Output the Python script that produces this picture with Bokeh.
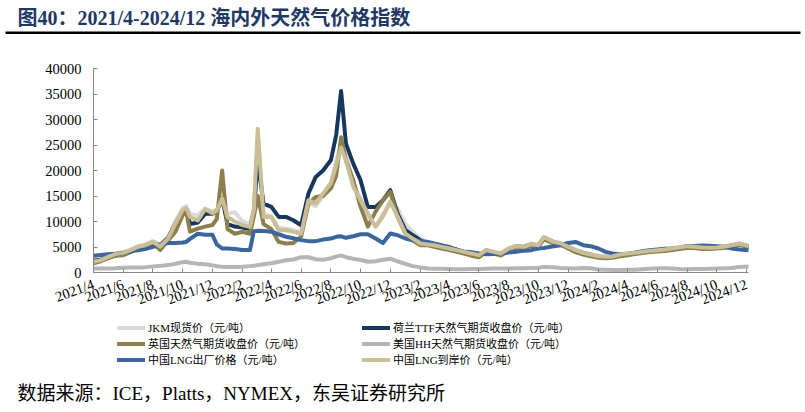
import pandas as pd
from datetime import datetime
from bokeh.plotting import figure
from bokeh.layouts import column
from bokeh.models import (Range1d, FixedTicker, Legend, LegendItem, Label,
                          BoxAnnotation, NumeralTickFormatter, Plot)
from bokeh.embed import file_html
from bokeh.resources import INLINE

# ---------------- data ----------------
dates = ["2021-04-01","2021-04-16","2021-05-01","2021-05-16","2021-06-01","2021-06-16","2021-07-01","2021-07-16","2021-08-01","2021-08-16",
         "2021-09-01","2021-09-16","2021-10-01","2021-10-08","2021-10-16","2021-11-01","2021-11-16","2021-12-01","2021-12-10","2021-12-21",
         "2022-01-01","2022-01-16","2022-02-01","2022-02-16","2022-02-24","2022-03-04","2022-03-16","2022-04-01","2022-04-16","2022-05-01",
         "2022-05-16","2022-06-01","2022-06-16","2022-07-01","2022-07-16","2022-08-01","2022-08-12","2022-08-22","2022-09-01","2022-09-16",
         "2022-10-01","2022-10-16","2022-11-01","2022-11-16","2022-12-01","2022-12-16","2023-01-01","2023-01-16","2023-02-01","2023-02-16",
         "2023-03-01","2023-03-16","2023-04-01","2023-04-16","2023-05-01","2023-05-16","2023-06-01","2023-06-16","2023-07-01","2023-07-16",
         "2023-08-01","2023-08-16","2023-09-01","2023-09-16","2023-10-01","2023-10-12","2023-11-01","2023-11-16","2023-12-01","2023-12-16",
         "2024-01-01","2024-01-16","2024-02-01","2024-02-16","2024-03-01","2024-03-16","2024-04-01","2024-04-16","2024-05-01","2024-05-16",
         "2024-06-01","2024-06-16","2024-07-01","2024-07-16","2024-08-01","2024-08-16","2024-09-01","2024-09-16","2024-10-01","2024-10-16",
         "2024-11-01","2024-11-16","2024-12-06"]

jkm = [2300, 2600, 3200, 3700, 4000, 4500, 5200, 5500, 6200, 5400,
       7000, 10000, 12600, 13000, 11500, 11200, 12600, 12000, 12300, 14000,
       11500, 11800, 10000, 9500, 12500, 27000, 11500, 11000, 8800, 8600,
       8300, 8000, 13500, 13000, 15000, 17500, 22000, 25000, 23000, 17500,
       14500, 11000, 9000, 11500, 14000, 12500, 9500, 8000, 6500, 6000,
       5500, 5200, 4800, 4500, 4100, 3800, 3500, 4400, 4100, 3800,
       4800, 5200, 5100, 5600, 5500, 7000, 6100, 5800, 5200, 4500,
       4000, 3600, 3300, 3200, 3200, 3600, 3800, 3900, 4100, 4300,
       4400, 4600, 4800, 5000, 5200, 5100, 5000, 4900, 5000, 5100,
       5400, 5700, 5200]

ttf = [2300, 2500, 2900, 3300, 3700, 4200, 4800, 5200, 5800, 5300,
       6800, 9500, 12000, 12500, 9500, 9800, 11500, 11500, 12000, 14500,
       9500, 9000, 8800, 8500, 12000, 22000, 13500, 12860, 10900, 10900,
       10250, 9270, 15480, 18740, 20000, 22000, 27000, 35600, 25270, 21350,
       18090, 12860, 12860, 14170, 16130, 11560, 8290, 7310, 6330, 5680,
       5350, 5030, 4700, 4500, 4050, 3600, 3300, 4300, 3900, 3600,
       4600, 5100, 5000, 5500, 5300, 6800, 5900, 5600, 4900, 4300,
       3800, 3500, 3100, 3000, 3100, 3400, 3600, 3800, 4000, 4200,
       4300, 4400, 4600, 4800, 5100, 5000, 4800, 4800, 4900, 5000,
       5300, 5600, 5100]

nbp = [1800, 2200, 2800, 3300, 3400, 4000, 4700, 5000, 5600, 4400,
       6300, 8000, 11230, 12000, 8000, 8600, 9000, 9300, 10500, 20000,
       8500, 7600, 8000, 7600, 11000, 15000, 9500, 8500, 6000, 5680,
       5800, 7000, 13520, 14820, 15000, 16500, 19000, 26500, 22000, 18090,
       12860, 9000, 12000, 14170, 15800, 10900, 7640, 6330, 5350, 5350,
       5030, 4700, 4380, 4050, 3720, 3300, 3000, 4000, 3700, 3300,
       4300, 4800, 4700, 5200, 5100, 6500, 5700, 5400, 4700, 4000,
       3500, 3200, 2900, 2800, 2900, 3200, 3400, 3600, 3800, 4000,
       4100, 4200, 4400, 4600, 4800, 4800, 4600, 4600, 4700, 4800,
       5100, 5400, 5000]

hh = [800, 800, 800, 850, 950, 1000, 1000, 1050, 1200, 1300,
      1450, 1700, 2000, 2100, 1900, 1700, 1600, 1400, 1250, 1150,
      1100, 1100, 1150, 1250, 1300, 1450, 1600, 1800, 2100, 2400,
      2550, 3000, 3000, 2600, 2500, 2800, 3100, 3350, 3000, 2700,
      2450, 2100, 2200, 2500, 2700, 2200, 1700, 1250, 1000, 800,
      750, 750, 700, 650, 650, 700, 700, 750, 800, 800,
      800, 850, 850, 900, 950, 1100, 1050, 900, 850, 800,
      900, 850, 600, 550, 500, 500, 550, 550, 650, 750,
      850, 850, 800, 700, 650, 700, 700, 750, 800, 850,
      900, 1100, 1200]

lng_factory = [3300, 3450, 3600, 3700, 3850, 4100, 4380, 4600, 5030, 5500,
               5800, 5800, 5900, 6000, 6600, 7600, 7400, 7400, 5500, 4700,
               4700, 4600, 4400, 4400, 8100, 8200, 8150, 8000, 7500, 7000,
               6700, 6350, 6150, 6150, 6450, 6650, 7000, 7100, 6800, 7100,
               7500, 7500, 6660, 5800, 7640, 7310, 6660, 6330, 6200, 6000,
               5680, 5350, 5030, 4500, 4050, 4000, 3720, 3600, 3650, 3720,
               3900, 4050, 4240, 4380, 4700, 4800, 5160, 5350, 5800, 6000,
               5350, 5160, 4700, 4050, 3720, 3600, 3700, 3900, 4180, 4380,
               4500, 4640, 4700, 4830, 5160, 5220, 5290, 5250, 5160, 5030,
               4700, 4500, 4380]

lng_landed = [2100, 2400, 3070, 3600, 3850, 4380, 5030, 5350, 6000, 5100,
              6660, 9600, 12300, 12700, 10900, 10200, 12400, 11600, 12200, 14500,
              10900, 10000, 9300, 8950, 12200, 28200, 10900, 10900, 8300, 8300,
              7970, 7640, 14170, 13520, 15480, 17500, 21000, 24500, 22000, 16780,
              14170, 11560, 9000, 11000, 13800, 11000, 7640, 6660, 5680, 5500,
              5350, 5030, 4700, 4380, 4050, 3720, 3400, 4380, 4050, 3720,
              4700, 5160, 5030, 5550, 5350, 6900, 6000, 5680, 5030, 4380,
              3850, 3530, 3200, 3070, 3150, 3530, 3720, 3850, 4050, 4240,
              4380, 4500, 4700, 4900, 5160, 5030, 4900, 4850, 4900, 5030,
              5350, 5680, 5160]

series_names = ["JKM现货价（元/吨）", "荷兰TTF天然气期货收盘价（元/吨）", "英国天然气期货收盘价（元/吨）",
                "美国HH天然气期货收盘价（元/吨）", "中国LNG出厂价格（元/吨）", "中国LNG到岸价（元/吨）"]
series_colors = ["#dadada", "#17375e", "#8b7f4e", "#b5b5b5", "#3b659d", "#c9be96"]

y_ticks = [0, 5000, 10000, 15000, 20000, 25000, 30000, 35000, 40000]
x_tick_labels = ["2021/4", "2021/6", "2021/8", "2021/10", "2021/12", "2022/2", "2022/4", "2022/6",
                 "2022/8", "2022/10", "2022/12", "2023/2", "2023/4", "2023/6", "2023/8", "2023/10",
                 "2023/12", "2024/2", "2024/4", "2024/6", "2024/8", "2024/10", "2024/12"]

title_text = "图40：2021/4-2024/12 海内外天然气价格指数"
source_text = "数据来源：ICE，Platts，NYMEX，东吴证券研究所"

FONT = "Liberation Serif, Noto Sans CJK SC"
W = 805
HAS_FRAME_ALIGN = "frame_align" in Plot.properties()


def no_align(f):
    if HAS_FRAME_ALIGN:
        f.frame_align = False
    return f


def blank_fig(h, left=0, right=0, bg="white"):
    f = figure(width=W, height=h, output_backend="svg", toolbar_location=None,
               x_range=Range1d(0, W - left - right), y_range=Range1d(h, 0),
               x_axis_location=None, y_axis_location=None,
               min_border=0, min_border_left=left, min_border_right=right,
               min_border_top=0, min_border_bottom=0)
    f.outline_line_color = None
    f.xgrid.visible = False
    f.ygrid.visible = False
    f.background_fill_color = bg
    f.border_fill_color = "white"
    return no_align(f)

# ---------------- title strip ----------------
top = blank_fig(45)
top.add_layout(Label(x=17, y=17, text=title_text, text_font=FONT, text_font_size="20px",
                     text_font_style="bold", text_color="#1f3864",
                     text_baseline="middle", text_align="left"))
top.add_layout(BoxAnnotation(left=5, right=800, top=31, bottom=33.5,
                             fill_color="black", fill_alpha=1, line_color=None))

# ---------------- main chart ----------------
x = pd.to_datetime(dates)
p = figure(width=W, height=272, x_axis_type="datetime", output_backend="svg",
           toolbar_location=None,
           x_range=Range1d(datetime(2021, 4, 1), datetime(2024, 12, 5)),
           y_range=Range1d(0, 40000),
           min_border_left=93, min_border_right=57, min_border_top=23, min_border_bottom=45)
no_align(p)
p.outline_line_color = None
p.background_fill_color = "white"
p.border_fill_color = "white"
p.xgrid.visible = False
p.ygrid.visible = False

for vals, col in zip([jkm, ttf, nbp, hh, lng_factory, lng_landed], series_colors):
    p.line(x, vals, line_width=4, color=col, line_join="round", line_cap="round")


def to_ms(lab):
    yy, mm = lab.split("/")
    return (datetime(int(yy), int(mm), 1) - datetime(1970, 1, 1)).total_seconds() * 1000.0


tick_ms = [to_ms(l) for l in x_tick_labels]
p.xaxis.ticker = FixedTicker(ticks=tick_ms)
p.xaxis.major_label_overrides = {t: l for t, l in zip(tick_ms, x_tick_labels)}
p.xaxis.major_label_orientation = 0.35
p.xaxis.major_label_standoff = 11
for ax in (p.xaxis, p.yaxis):
    ax.major_tick_in = 4
    ax.major_tick_out = 0
    ax.minor_tick_in = 0
    ax.minor_tick_out = 0
    ax.axis_line_color = "#868686"
    ax.major_tick_line_color = "#868686"
    ax.major_label_text_font = "Liberation Serif"
    ax.major_label_text_font_size = "14.5px"
    ax.major_label_text_color = "black"

p.yaxis.ticker = FixedTicker(ticks=y_ticks)
p.yaxis.formatter = NumeralTickFormatter(format="0")
p.yaxis.major_label_standoff = 12

# ---------------- legend strip ----------------
leg = blank_fig(59)
keys = []
for col in series_colors:
    # legend keys only: these points sit outside the strip's visible range
    keys.append(leg.line(x=[-50, -40], y=[-50, -50], line_width=4, color=col, line_cap="round"))


def make_legend(idx, loc):
    items = [LegendItem(label=series_names[i], renderers=[keys[i]]) for i in idx]
    return Legend(items=items, location=loc, orientation="vertical",
                  border_line_color=None, background_fill_alpha=0, padding=0, margin=0,
                  spacing=0, glyph_width=28, glyph_height=13, label_height=13,
                  label_standoff=3, label_text_font=FONT, label_text_font_size="11px",
                  label_text_color="black")


leg.add_layout(make_legend([0, 2, 4], (117, 9)))
leg.add_layout(make_legend([1, 3, 5], (362, 9)))

# ---------------- thin rule (the strip's own black frame) ----------------
rule = blank_fig(2, left=5, right=5, bg="black")

# ---------------- source strip ----------------
src = blank_fig(34)
src.add_layout(Label(x=17, y=15, text=source_text, text_font=FONT, text_font_size="19px",
                     text_color="black", text_baseline="middle", text_align="left"))

layout = column(top, p, leg, rule, src, spacing=0)
open("out.html", "w").write(file_html(layout, INLINE))
